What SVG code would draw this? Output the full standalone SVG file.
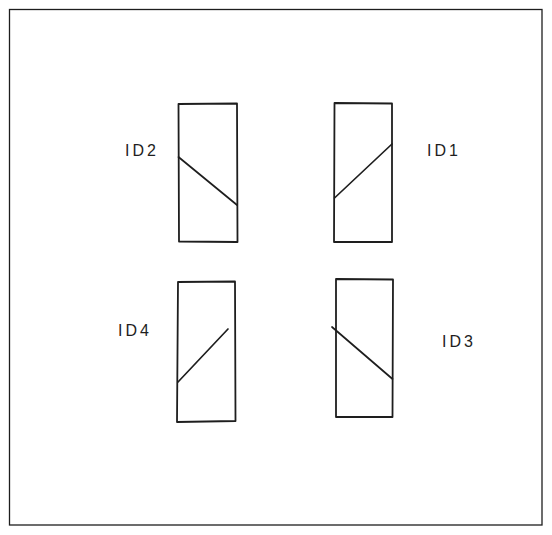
<svg xmlns="http://www.w3.org/2000/svg" width="552" height="535" viewBox="0 0 552 535">
<style>
.frame{fill:#ffffff;stroke:#1e1e1e;stroke-width:1.3}
.box{fill:none;stroke:#1e1e1e;stroke-width:1.8;stroke-linecap:round;stroke-linejoin:round}
.diag{fill:none;stroke:#1e1e1e;stroke-width:1.7;stroke-linecap:round}
.lbl{font-family:"Liberation Sans","DejaVu Sans",sans-serif;font-size:16px;fill:#1e1e1e;dominant-baseline:central;text-anchor:middle;letter-spacing:3px}
</style>
<rect x="0" y="0" width="552" height="535" fill="#ffffff"/>
<rect class="frame" x="9.5" y="9.5" width="532.5" height="515.5"/>
<g id="node-id2">
<path class="box" d="M178.5 104 L237 103.5 L237.5 242 L179 241.5 Z"/>
<path class="diag" d="M178.5 157 L237 205"/>
<text class="lbl" x="142" y="150">ID2</text>
</g>
<g id="node-id1">
<path class="box" d="M334.5 103 L392 103.5 L392 242 L334 242 Z"/>
<path class="diag" d="M334.5 198 L392 144"/>
<text class="lbl" x="444" y="150">ID1</text>
</g>
<g id="node-id4">
<path class="box" d="M178 282 L235 281.5 L235.5 421 L177 422 Z"/>
<path class="diag" d="M178 382 L228 329"/>
<text class="lbl" x="135" y="330">ID4</text>
</g>
<g id="node-id3">
<path class="box" d="M336 279 L393 279.5 L392.5 417 L336 417 Z"/>
<path class="diag" d="M332 327 L392.5 379"/>
<text class="lbl" x="459" y="341">ID3</text>
</g>
<g id="connectors"></g>
</svg>
